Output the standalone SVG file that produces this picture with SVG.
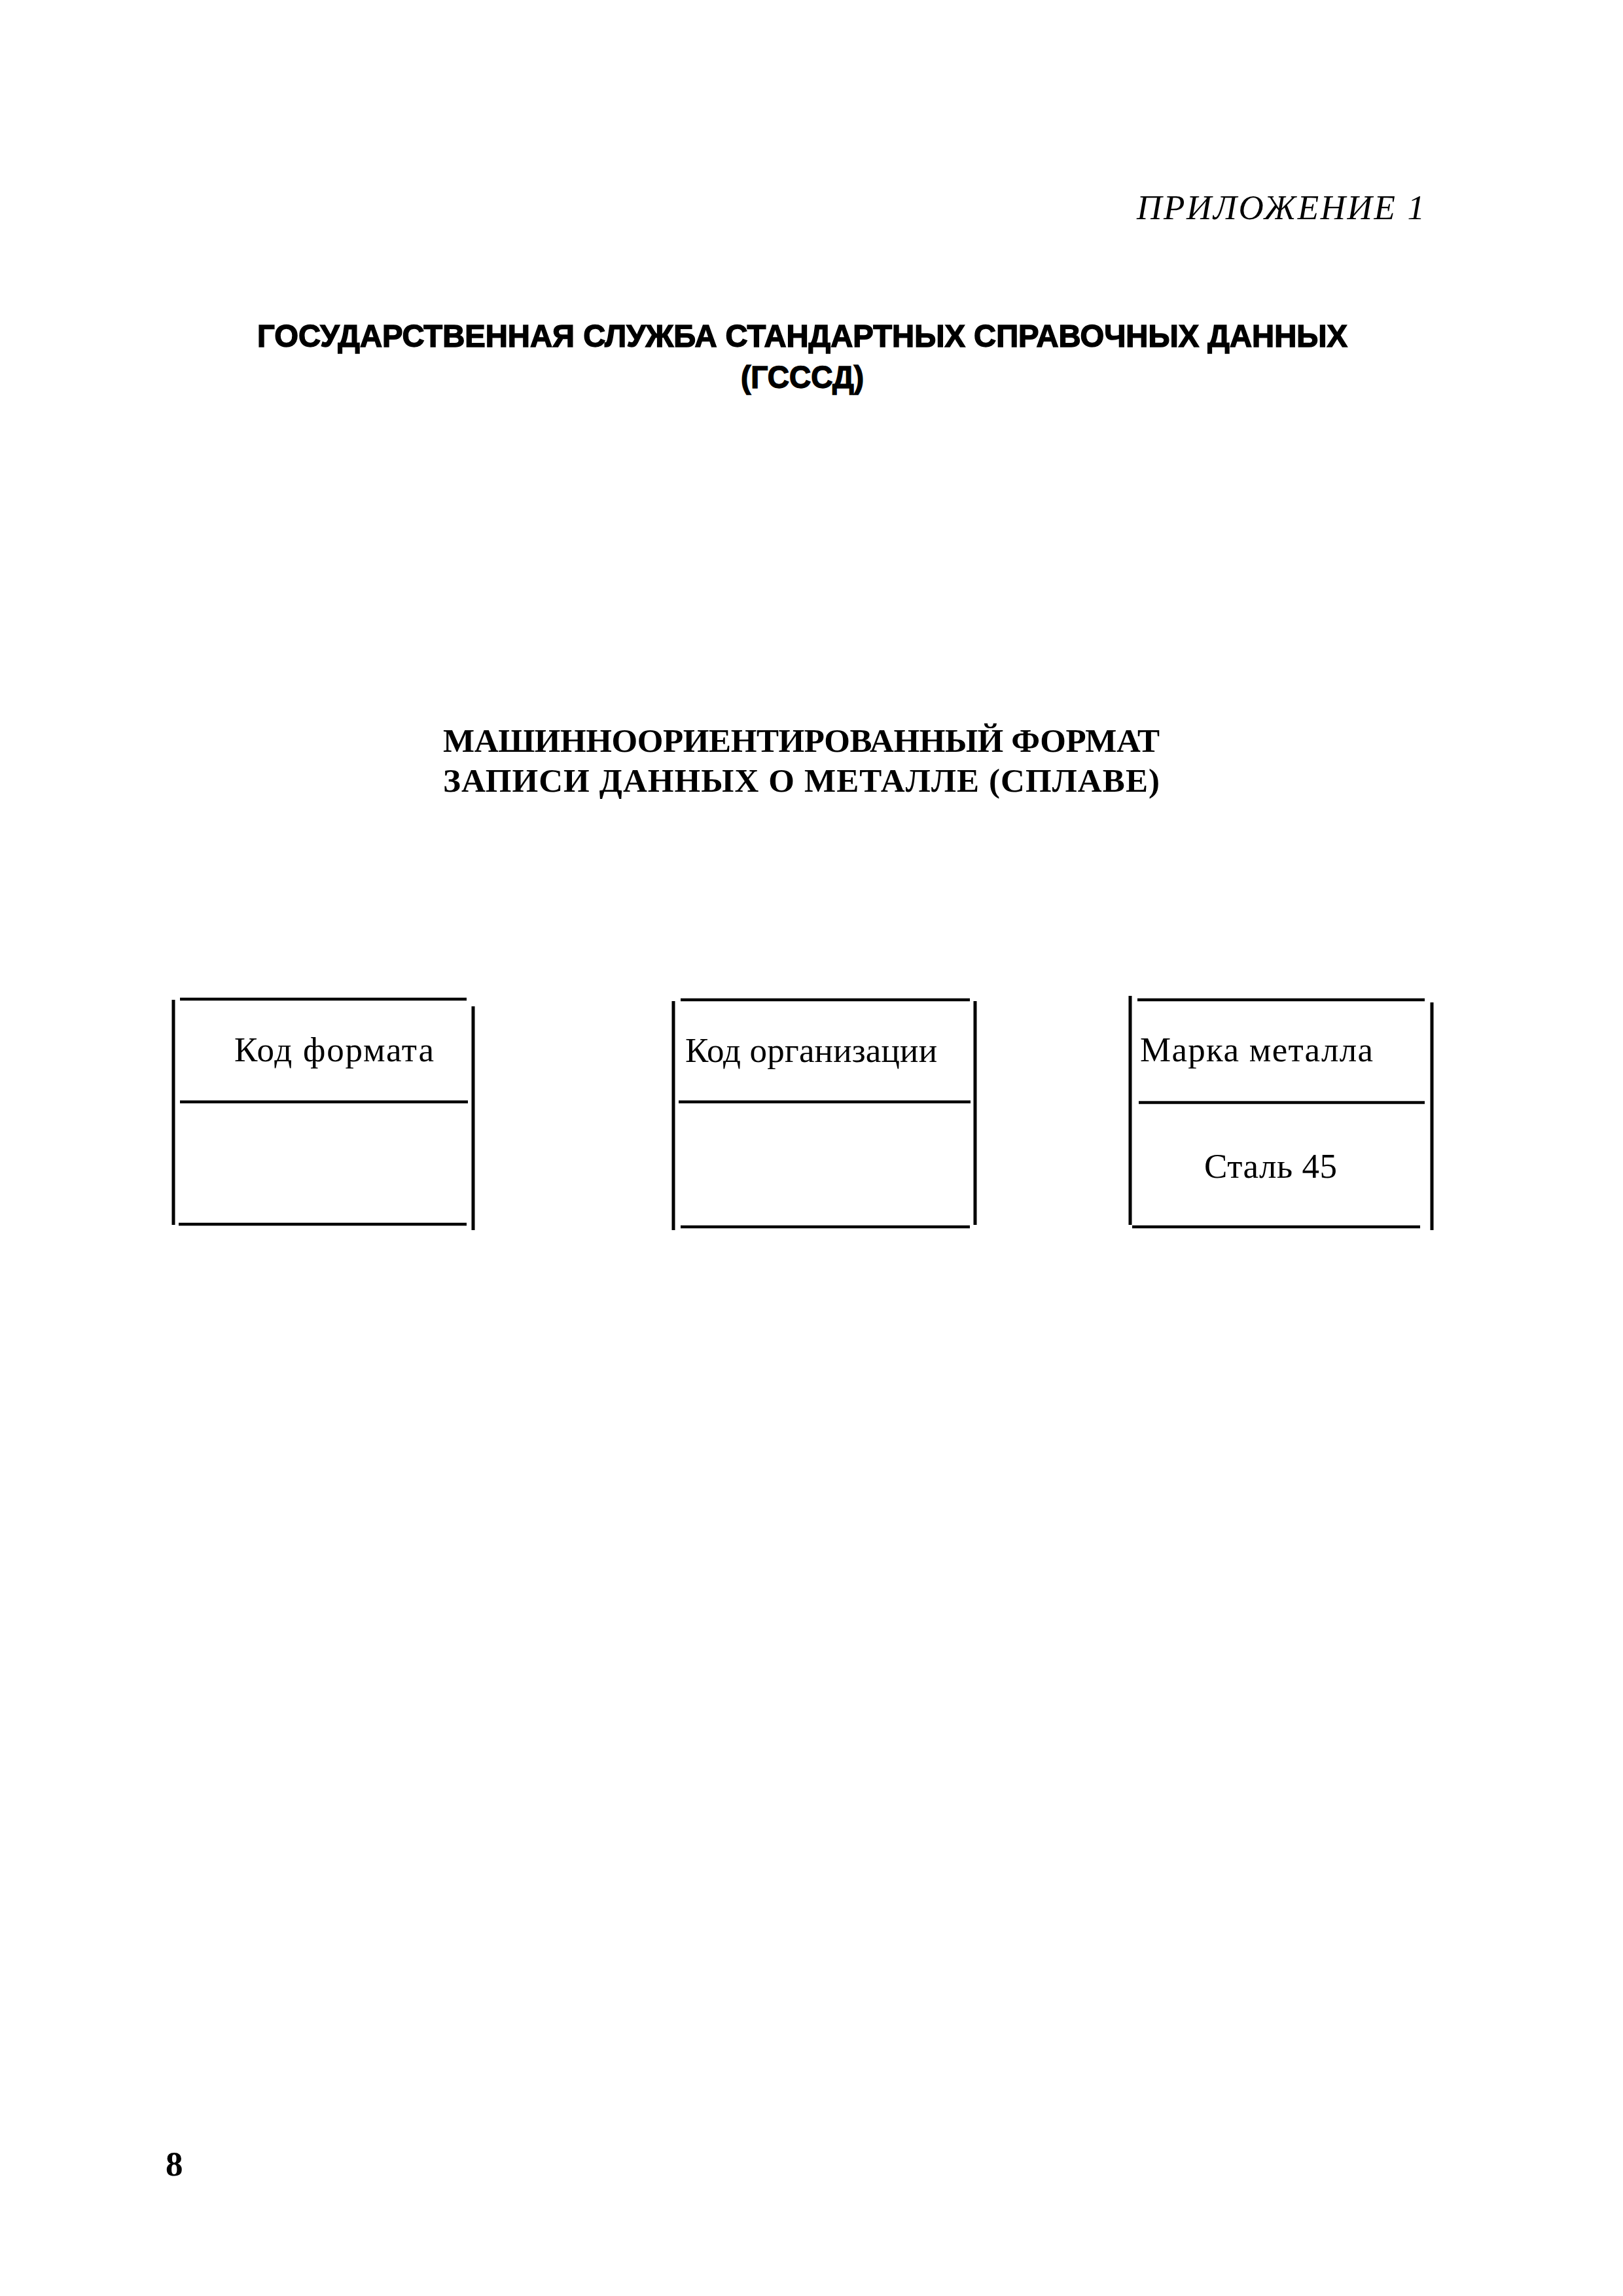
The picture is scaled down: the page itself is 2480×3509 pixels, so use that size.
<svg xmlns="http://www.w3.org/2000/svg" width="2480" height="3509" viewBox="0 0 2480 3509">
<style>
.bg{fill:#ffffff}
.ln{stroke:#000;stroke-width:4.5;stroke-linecap:butt;fill:none}
.vl{stroke:#000;stroke-width:5;fill:none}
.lbl{font-family:"Liberation Serif","DejaVu Serif",serif;font-size:53px;fill:#000}
.app{font-family:"Liberation Serif","DejaVu Serif",serif;font-size:53px;font-style:italic;fill:#000}
.org{font-family:"Liberation Sans","DejaVu Sans",sans-serif;font-size:49px;font-weight:bold;fill:#000;stroke:#000;stroke-width:1.5}
.ttl{font-family:"Liberation Serif","DejaVu Serif",serif;font-size:51px;font-weight:bold;fill:#000}
.pg{font-family:"Liberation Serif","DejaVu Serif",serif;font-size:53px;font-weight:bold;fill:#000}
</style>
<rect class="bg" x="0" y="0" width="2480" height="3509"/>

<g id="header">
<text class="app" x="1737" y="335" textLength="440" lengthAdjust="spacing">ПРИЛОЖЕНИЕ 1</text>
<text class="org" x="393" y="530" textLength="1666" lengthAdjust="spacingAndGlyphs">ГОСУДАРСТВЕННАЯ СЛУЖБА СТАНДАРТНЫХ СПРАВОЧНЫХ ДАННЫХ</text>
<text class="org" x="1132" y="593" textLength="188" lengthAdjust="spacingAndGlyphs">(ГСССД)</text>
</g>

<g id="title">
<text class="ttl" x="677" y="1149" textLength="1095" lengthAdjust="spacing">МАШИННООРИЕНТИРОВАННЫЙ ФОРМАТ</text>
<text class="ttl" x="677" y="1210" textLength="1095" lengthAdjust="spacing">ЗАПИСИ ДАННЫХ О МЕТАЛЛЕ (СПЛАВЕ)</text>
</g>

<g id="box-format-code">
<line class="vl" x1="265" y1="1528" x2="265" y2="1872"/>
<line class="vl" x1="723" y1="1538" x2="723" y2="1880"/>
<line class="ln" x1="275" y1="1527" x2="713" y2="1527"/>
<line class="ln" x1="275" y1="1684" x2="715" y2="1684"/>
<line class="ln" x1="273" y1="1871" x2="713" y2="1871"/>
<text class="lbl" x="358" y="1622" textLength="305" lengthAdjust="spacing">Код формата</text>
</g>

<g id="box-organization-code">
<line class="vl" x1="1029" y1="1530" x2="1029" y2="1880"/>
<line class="vl" x1="1490" y1="1530" x2="1490" y2="1872"/>
<line class="ln" x1="1040" y1="1528" x2="1482" y2="1528"/>
<line class="ln" x1="1037" y1="1684" x2="1483" y2="1684"/>
<line class="ln" x1="1040" y1="1875" x2="1482" y2="1875"/>
<text class="lbl" x="1047" y="1623" textLength="385" lengthAdjust="spacing">Код организации</text>
</g>

<g id="box-metal-grade">
<line class="vl" x1="1727" y1="1522" x2="1727" y2="1872"/>
<line class="vl" x1="2188" y1="1532" x2="2188" y2="1880"/>
<line class="ln" x1="1738" y1="1528" x2="2177" y2="1528"/>
<line class="ln" x1="1740" y1="1685" x2="2177" y2="1685"/>
<line class="ln" x1="1730" y1="1875" x2="2170" y2="1875"/>
<text class="lbl" x="1742" y="1622" textLength="356" lengthAdjust="spacing">Марка металла</text>
<text class="lbl" x="1840" y="1800" textLength="203" lengthAdjust="spacing">Сталь 45</text>
</g>

<g id="page-number">
<text class="pg" x="253" y="3325">8</text>
</g>
</svg>
